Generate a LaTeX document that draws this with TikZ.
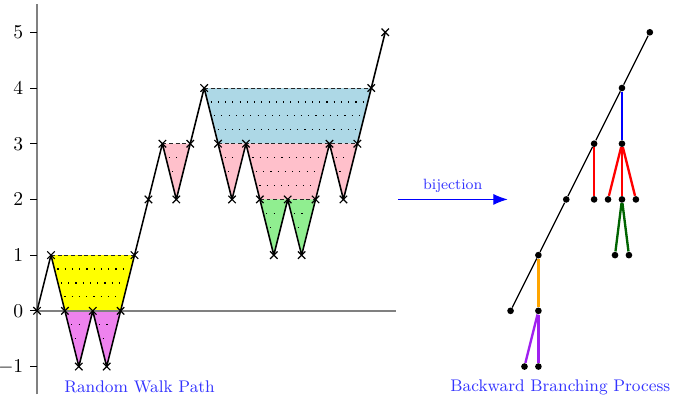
\documentclass[tikz,border=0pt]{standalone}
\usepackage{tikz}
\usetikzlibrary{arrows.meta,shapes.misc,positioning}
\definecolor{excyellow}{RGB}{255,255,0}
\definecolor{excviolet}{RGB}{238,130,238}
\definecolor{excpink}{RGB}{255,192,203}
\definecolor{excblue}{RGB}{173,216,230}
\definecolor{excgreen}{RGB}{144,238,144}
\definecolor{branchorange}{RGB}{255,165,0}
\definecolor{branchpurple}{RGB}{160,32,240}
\definecolor{branchgreen}{RGB}{0,100,0}

\begin{document}
\begin{tikzpicture}[
    x=0.25cm, y=1cm,
    axis/.style={gray, line width=0.9pt},
    walk/.style={thick, line join=round},
    walkpt/.style={cross out, draw, semithick, inner sep=0pt, minimum size=3.2pt},
    toplevel/.style={thin, black!85, dash pattern=on 2pt off 1.4pt},
    hatch/.style={line width=0.6pt, dash pattern=on 0.6pt off 3.1pt, shorten <=1.5pt, shorten >=2pt},
    vertex/.style={circle, fill=black, inner sep=0pt, minimum size=3.4pt},
    branch/.style={very thick},
    caption/.style={text=blue!80, font=\fontsize{8.6}{10}\selectfont},
    arrow/.style={-{Latex[length=2.6mm, width=2mm]}, semithick, blue}
]
    \useasboundingbox (-2.66,-1.56) rectangle (45.88,5.58);

    % walk vertices
    \foreach \y [count=\i from 0] in {0,1,0,-1,0,-1,0,1,2,3,2,3,4,3,2,3,2,1,2,1,2,3,2,3,4,5}
        \coordinate (w\i) at (\i,\y);

    % excursions
    \fill[excyellow] (w1) -- (w2) -- (w6) -- (w7) -- cycle;
    \fill[excviolet] (w2) -- (w3) -- (w4) -- (w5) -- (w6) -- cycle;
    \fill[excpink] (w9) -- (w10) -- (w11) -- cycle;
    \fill[excblue] (w12) -- (w13) -- (w23) -- (w24) -- cycle;
    \fill[excpink] (w13) -- (w14) -- (w15) -- (w16) -- (w20) -- (w21) -- (w22) -- (w23) -- cycle;
    \fill[excgreen] (w16) -- (w17) -- (w18) -- (w19) -- (w20) -- cycle;

    \foreach \h in {0.25,0.5,0.75} {
        \draw[hatch] ({1+\h},{1-\h}) -- ({7-\h},{1-\h});
        \draw[hatch] ({12+\h},{4-\h}) -- ({24-\h},{4-\h});
        \draw[hatch] ({15+\h},{3-\h}) -- ({21-\h},{3-\h});
    }
    \foreach \h in {0.25,0.5} {
        \foreach \a in {2,4} \draw[hatch] ({\a+\h},-\h) -- ({\a+2-\h},-\h);
        \foreach \a in {16,18} \draw[hatch] ({\a+\h},{2-\h}) -- ({\a+2-\h},{2-\h});
        \foreach \a in {9,13,21} \draw[hatch] ({\a+\h},{3-\h}) -- ({\a+2-\h},{3-\h});
    }

    \draw[toplevel] (w1) -- (w7);
    \draw[toplevel] (w2) -- (w6);
    \draw[toplevel] (w9) -- (w11);
    \draw[toplevel] (w12) -- (w24);
    \draw[toplevel] (w13) -- (w23);
    \draw[toplevel] (w16) -- (w20);

    % axes
    \draw[axis] (0,-1.5) -- (0,5.5);
    \draw[axis] (0,0) -- (25.8,0);
    \foreach \y in {-1,...,5}
        \draw[thin] (0,\y) -- ++(-3.5pt,0) node[left] {$\y$};

    \draw[walk] (w0) \foreach \i in {1,...,25} {-- (w\i)};
    \foreach \i in {0,...,25}
        \node[walkpt] at (w\i) {};

    \node[caption] (walklabel) at (7.36,-1.37) {Random Walk Path};

    % bijection
    \coordinate (bijstart) at (25.9,2);
    \coordinate (bijend) at (33.8,2);
    \draw[arrow] (bijstart) -- node[above, font=\fontsize{7.6}{9}\selectfont, text=blue!80] {bijection} (bijend);

    % branching process
    \node[vertex] (t0) at (34,0) {};
    \node[vertex] (t1) at (36,1) {};
    \node[vertex] (t2) at (38,2) {};
    \node[vertex] (t3) at (40,3) {};
    \node[vertex] (t4) at (42,4) {};
    \node[vertex] (t5) at (44,5) {};
    \node[vertex] (u1) at (36,0) {};
    \node[vertex] (u1a) at (35,-1) {};
    \node[vertex] (u1b) at (36,-1) {};
    \node[vertex] (u3) at (40,2) {};
    \node[vertex] (u4) at (42,3) {};
    \node[vertex] (u4a) at (41,2) {};
    \node[vertex] (u4b) at (42,2) {};
    \node[vertex] (u4c) at (43,2) {};
    \node[vertex] (u4ba) at (41.5,1) {};
    \node[vertex] (u4bb) at (42.5,1) {};

    \draw[semithick] (t0) -- (t1) -- (t2) -- (t3) -- (t4) -- (t5);
    \draw[branch, branchorange] (t1) -- (u1);
    \draw[branch, branchpurple] (u1) -- (u1a);
    \draw[branch, branchpurple] (u1) -- (u1b);
    \draw[branch, red] (t3) -- (u3);
    \draw[branch, blue] (t4) -- (u4);
    \draw[branch, red] (u4) -- (u4a);
    \draw[branch, red] (u4) -- (u4b);
    \draw[branch, red] (u4) -- (u4c);
    \draw[branch, branchgreen] (u4b) -- (u4ba);
    \draw[branch, branchgreen] (u4b) -- (u4bb);

    \node[caption] (treelabel) at (37.57,-1.37) {Backward Branching Process};
\end{tikzpicture}
\end{document}
